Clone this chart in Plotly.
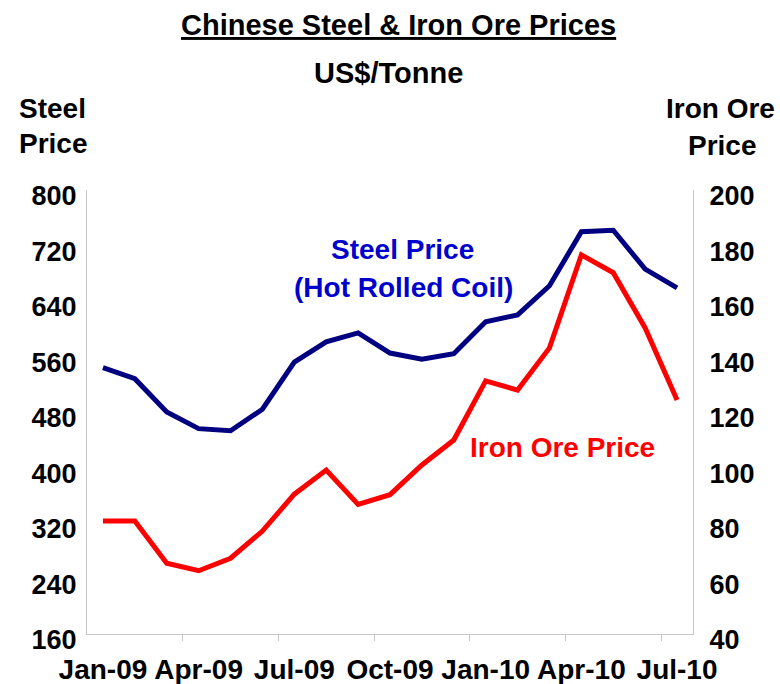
import plotly.graph_objects as go

months = ["Jan-09", "Feb-09", "Mar-09", "Apr-09", "May-09", "Jun-09", "Jul-09", "Aug-09",
          "Sep-09", "Oct-09", "Nov-09", "Dec-09", "Jan-10", "Feb-10", "Mar-10", "Apr-10",
          "May-10", "Jun-10", "Jul-10"]
steel_price = [544, 528, 480, 456, 453, 484, 552, 581, 594, 565, 556, 564, 610, 620, 662, 740, 742, 686, 659]
iron_ore_price = [80.7, 80.7, 65.5, 62.8, 67.3, 77.1, 90.4, 99.1, 86.7, 90.2, 100.9, 109.9, 131.2, 127.9,
                  143.1, 176.6, 170.2, 150.3, 124.3]

tick_idx = list(range(0, len(months), 3))
tick_text = [months[i] for i in tick_idx]
boundaries = [i + 2.5 for i in range(0, len(months) - 1, 3)]

FONT = "Liberation Sans, Arial, sans-serif"
x = list(range(len(months)))

fig = go.Figure()
fig.add_trace(go.Scatter(x=x, y=steel_price, mode="lines", name="Steel Price",
                         line=dict(color="#000080", width=5), yaxis="y"))
fig.add_trace(go.Scatter(x=x, y=iron_ore_price, mode="lines", name="Iron Ore Price",
                         line=dict(color="#FF0000", width=5), yaxis="y2"))

axis_line = "#C8C8C8"
tfont = dict(size=27, family=FONT, color="black", weight="bold")
fig.update_layout(
    width=780, height=684,
    margin=dict(l=87, r=87, t=190, b=50, autoexpand=False),
    paper_bgcolor="white", plot_bgcolor="white",
    showlegend=False,
    font=dict(family=FONT, color="black"),
    xaxis=dict(range=[-0.5, len(months) - 0.5], tickmode="array", tickvals=tick_idx, ticktext=tick_text,
               ticks="", showgrid=False, zeroline=False, showline=True, linecolor=axis_line, linewidth=1,
               tickfont=dict(size=28, family=FONT, color="black", weight="bold"), ticklabelstandoff=10,
               automargin=False,
               minor=dict(tickmode="array", tickvals=boundaries, ticks="outside", ticklen=6,
                          tickcolor=axis_line, showgrid=False)),
    yaxis=dict(range=[160, 800], dtick=80, tick0=160, showgrid=False, zeroline=False,
               showline=True, linecolor=axis_line, linewidth=1, ticks="", automargin=False,
               tickfont=tfont, ticklabelstandoff=4, ticklabelshift=6),
    yaxis2=dict(range=[40, 200], dtick=20, tick0=40, overlaying="y", side="right", showgrid=False,
                zeroline=False, showline=True, linecolor=axis_line, linewidth=1, ticks="", automargin=False,
                tickfont=tfont, ticklabelstandoff=10, ticklabelshift=6),
)

ann = [
    dict(text="<b><u>Chinese Steel & Iron Ore Prices</u></b>", x=398, y=25, size=29, color="black", anchor="center"),
    dict(text="<b>US$/Tonne</b>", x=388, y=73, size=29, color="black", anchor="center"),
    dict(text="<b>Steel</b>", x=17, y=108, size=28, color="black", anchor="left"),
    dict(text="<b>Price</b>", x=17, y=144, size=28, color="black", anchor="left"),
    dict(text="<b>Iron Ore</b>", x=720, y=108, size=28, color="black", anchor="center"),
    dict(text="<b>Price</b>", x=722, y=145, size=28, color="black", anchor="center"),
    dict(text="<b>Steel Price</b>", x=402, y=250, size=28, color="#0000CC", anchor="center"),
    dict(text="<b>(Hot Rolled Coil)</b>", x=403, y=287, size=28, color="#0000CC", anchor="center"),
    dict(text="<b>Iron Ore Price</b>", x=562, y=447, size=28, color="#FF0000", anchor="center"),
]
for a in ann:
    fig.add_annotation(text=a["text"], xref="paper", yref="paper",
                       x=(a["x"] - 87) / (780 - 174), y=(634 - a["y"]) / (634 - 190),
                       xanchor=a["anchor"], yanchor="middle", showarrow=False,
                       font=dict(size=a["size"], color=a["color"], family=FONT))

fig.write_html("out.html", config={"displayModeBar": False},
               post_script="document.body.style.margin='0';document.body.style.overflow='hidden';")
